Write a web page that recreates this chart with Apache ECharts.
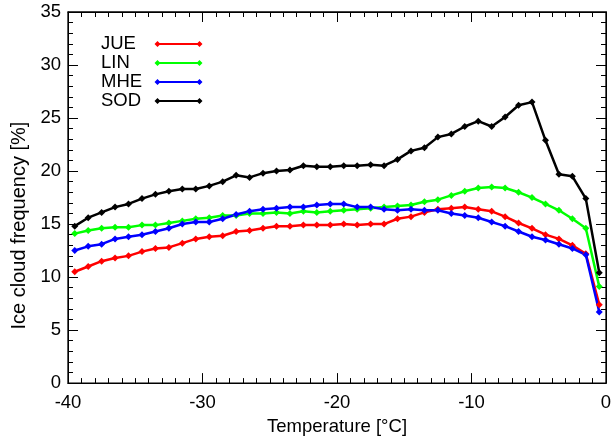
<!DOCTYPE html>
<html lang="en">
<head>
    <meta charset="UTF-8">
    <title>Ice cloud frequency</title>
    <style>
        html, body { margin: 0; padding: 0; background: #fff; }
        #main { width: 615px; height: 441px; }
    </style>
    <script src="https://cdn.jsdelivr.net/npm/echarts@6/dist/echarts.min.js"></script>
</head>
<body>

<div id="main"></div>

<script>

    // temperature bin centres [°C]
    var temps = [-39.5, -38.5, -37.5, -36.5, -35.5, -34.5, -33.5, -32.5, -31.5, -30.5,
                 -29.5, -28.5, -27.5, -26.5, -25.5, -24.5, -23.5, -22.5, -21.5, -20.5,
                 -19.5, -18.5, -17.5, -16.5, -15.5, -14.5, -13.5, -12.5, -11.5, -10.5,
                 -9.5, -8.5, -7.5, -6.5, -5.5, -4.5, -3.5, -2.5, -1.5, -0.5];

    // ice cloud frequency [%] per site
    var jue = [10.5, 11.0, 11.5, 11.8, 12.0, 12.4, 12.7, 12.8, 13.2, 13.6,
               13.8, 13.9, 14.3, 14.4, 14.6, 14.8, 14.8, 14.9, 14.9, 14.9,
               15.0, 14.9, 15.0, 15.0, 15.5, 15.7, 16.1, 16.4, 16.5, 16.6,
               16.4, 16.2, 15.7, 15.1, 14.6, 14.0, 13.6, 13.0, 12.2, 7.4];
    var lin = [14.1, 14.4, 14.6, 14.7, 14.7, 14.9, 14.9, 15.1, 15.3, 15.5,
               15.6, 15.8, 15.8, 16.0, 16.0, 16.1, 16.0, 16.2, 16.1, 16.2,
               16.3, 16.4, 16.5, 16.6, 16.7, 16.8, 17.1, 17.3, 17.7, 18.1,
               18.4, 18.5, 18.4, 18.0, 17.5, 16.9, 16.3, 15.5, 14.6, 9.1];
    var mhe = [12.5, 12.9, 13.1, 13.6, 13.8, 14.0, 14.3, 14.6, 15.0, 15.2,
               15.2, 15.5, 15.9, 16.2, 16.4, 16.5, 16.6, 16.6, 16.8, 16.9,
               16.9, 16.6, 16.6, 16.4, 16.3, 16.4, 16.3, 16.3, 16.0, 15.8,
               15.6, 15.2, 14.8, 14.3, 13.8, 13.5, 13.1, 12.7, 12.1, 6.7];
    var sod = [14.8, 15.6, 16.1, 16.6, 16.9, 17.4, 17.8, 18.1, 18.3, 18.3,
               18.6, 19.0, 19.6, 19.4, 19.8, 20.0, 20.1, 20.5, 20.4, 20.4,
               20.5, 20.5, 20.6, 20.5, 21.1, 21.9, 22.2, 23.2, 23.5, 24.2,
               24.7, 24.2, 25.1, 26.2, 26.5, 22.9, 19.7, 19.5, 17.4, 10.4];

    var siteNames = ['JUE', 'LIN', 'MHE', 'SOD'];
    var siteColors = ['#ff0000', '#00ff00', '#0000ff', '#000000'];
    var siteValues = [jue, lin, mhe, sod];

    var font = 'Liberation Sans';
    var fs = 18.5;
    // line with a diamond at each end, like the IDL legend
    var legendIcon = 'path://M0,3L3,0L6,3L3,6Z M3,2L45,2L45,4L3,4Z M42,3L45,0L48,3L45,6Z';

    function pairs(vals) {
        var out = [];
        for (var i = 0; i < temps.length; i++) {
            out.push([temps[i], vals[i]]);
        }
        return out;
    }

    var series = [];
    for (var k = 0; k < siteNames.length; k++) {
        series.push({
            name: siteNames[k],
            type: 'line',
            data: pairs(siteValues[k]),
            symbol: 'diamond',
            symbolSize: 7,
            showSymbol: true,
            animation: false,
            itemStyle: { color: siteColors[k] },
            lineStyle: { color: siteColors[k], width: 2.5 }
        });
    }

    var frameLine = { show: true, onZero: false, lineStyle: { color: '#000', width: 1 } };
    var tickStyle = { show: true, inside: true, length: 10, lineStyle: { color: '#000', width: 1 } };
    var xMinor = { show: true, splitNumber: 10, length: 5, lineStyle: { color: '#000', width: 1 } };
    var yMinor = { show: true, splitNumber: 5, length: 5, lineStyle: { color: '#000', width: 1 } };

    var chart = echarts.init(document.getElementById('main'));

    var option = {
        animation: false,
        textStyle: { fontFamily: font },
        // box frame round the plot (IDL style)
        grid: {
            left: 68, right: 9, top: 12, bottom: 48,
            show: true, borderColor: '#000', borderWidth: 1.3, backgroundColor: 'transparent'
        },
        legend: {
            orient: 'vertical',
            left: 101,
            top: 34.5,
            padding: 0,
            align: 'right',
            itemWidth: 51,
            itemHeight: 6,
            itemGap: 0,
            icon: legendIcon,
            data: siteNames,
            formatter: '{n|{name}}',
            textStyle: {
                fontFamily: font, fontSize: fs, color: '#000',
                rich: { n: { fontFamily: font, fontSize: fs, color: '#000', width: 47, lineHeight: 19, align: 'left' } }
            }
        },
        xAxis: [{
            type: 'value',
            min: -40, max: 0, interval: 10,
            name: 'Temperature [°C]',
            nameLocation: 'middle',
            nameGap: 28,
            nameTextStyle: { fontFamily: font, fontSize: fs, color: '#000' },
            axisLine: frameLine,
            axisTick: tickStyle,
            minorTick: xMinor,
            axisLabel: { fontFamily: font, fontSize: fs, color: '#000', margin: 10 },
            splitLine: { show: false }
        }, {
            type: 'value',
            position: 'top',
            min: -40, max: 0, interval: 10,
            axisLine: frameLine,
            axisTick: tickStyle,
            minorTick: xMinor,
            axisLabel: { show: false },
            splitLine: { show: false }
        }],
        yAxis: [{
            type: 'value',
            min: 0, max: 35, interval: 5,
            name: 'Ice cloud frequency [%]',
            nameLocation: 'middle',
            nameGap: 34,
            nameTextStyle: { fontFamily: font, fontSize: 20, color: '#000', padding: [0, 56, 0, 0] },
            axisLine: frameLine,
            axisTick: tickStyle,
            minorTick: yMinor,
            axisLabel: { fontFamily: font, fontSize: fs, color: '#000', margin: 7 },
            splitLine: { show: false }
        }, {
            type: 'value',
            position: 'right',
            min: 0, max: 35, interval: 5,
            axisLine: frameLine,
            axisTick: tickStyle,
            minorTick: yMinor,
            axisLabel: { show: false },
            splitLine: { show: false }
        }],
        series: series
    };

    option && chart.setOption(option);

</script>

</body>
</html>
